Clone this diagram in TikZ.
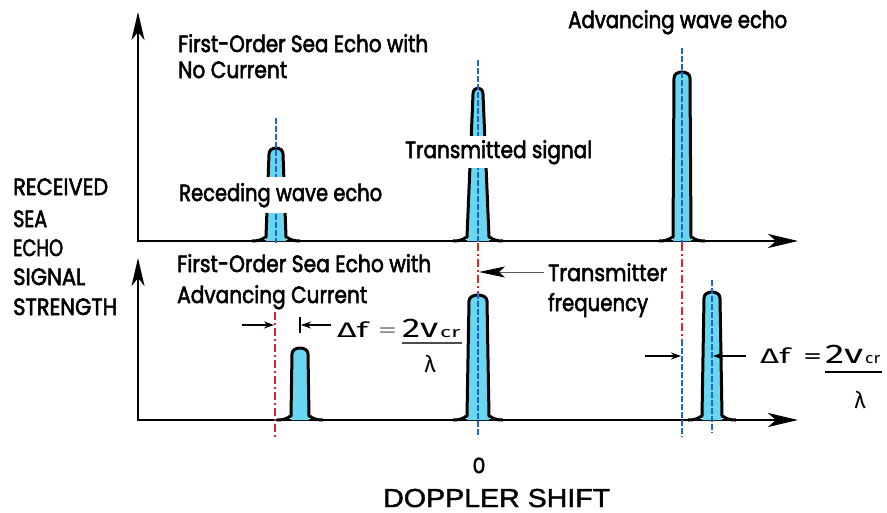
\documentclass[tikz,border=0pt]{standalone}
\usepackage{fontspec}
\usepackage{graphicx}
\setmainfont{Poppins}[FakeBold=2.6]
\newfontfamily\frmfont{Fira Sans}
\newfontfamily\arialfont{Liberation Sans}[FakeBold=1.5]
\usetikzlibrary{arrows.meta}
\definecolor{pkfill}{RGB}{105,215,240}
\definecolor{cline}{RGB}{30,100,210}
\definecolor{rline}{RGB}{215,40,40}
\newcommand\tw[2]{\resizebox{#1pt}{\height}{#2}}
% #1 x, #2 baseline y, #3 top y, #4 half width at base, #5 half width at top, #6 shoulder
\newcommand\drawpeak[6]{%
  \fill[pkfill] ({#1-#4},#2) -- ({#1-#5},{#3+6}) .. controls ({#1-#5},{#3-2}) and ({#1+#5},{#3-2}) .. ({#1+#5},{#3+6}) -- ({#1+#4},#2) -- cycle;
  \draw[pkline] ({#1-#4-#6},#2) .. controls ({#1-#4-3},#2) and ({#1-#4-2},{#2-4}) .. ({#1-#4},{#2-4}) -- ({#1-#5},{#3+6}) .. controls ({#1-#5},{#3-2}) and ({#1+#5},{#3-2}) .. ({#1+#5},{#3+6}) -- ({#1+#4},{#2-4}) .. controls ({#1+#4+2},{#2-4}) and ({#1+#4+3},#2) .. ({#1+#4+#6},#2);
}
\begin{document}
\begin{tikzpicture}[x=1pt,y=-1pt,
  axis/.style={line width=2.6pt, line cap=butt},
  pkline/.style={line width=3pt, line join=round},
  cl/.style={cline, line width=1.3pt, dash pattern=on 6pt off 2pt},
  rl/.style={rline, line width=1.3pt, dash pattern=on 8pt off 3pt on 2pt off 3pt},
  lbl/.style={anchor=base west, inner sep=0pt, font=\fontsize{23.5}{23.5}\selectfont},
  frm/.style={anchor=base west, inner sep=0pt, font=\frmfont\fontsize{21}{21}\selectfont},
  dim/.style={line width=1.2pt, -{Stealth[length=10pt,width=7pt]}},
  bighead/.style={{Stealth[length=28pt,width=13pt,inset=8pt]}-{Stealth[length=30pt,width=14pt,inset=8pt]}}
]
\useasboundingbox[fill=white] (0,0) rectangle (887,512);

% axes
\coordinate (Y1) at (138,12);
\coordinate (X1) at (798,241);
\coordinate (Y2) at (138,258);
\coordinate (X2) at (798,420);
\draw[axis,bighead] (Y1) |- (X1);
\draw[axis,bighead] (Y2) |- (X2);

% peaks
\drawpeak{276}{241}{148}{10}{7}{14}
\drawpeak{478}{241}{88}{11}{5}{14}
\drawpeak{682}{241}{72}{9}{8}{14}
\drawpeak{300}{420}{348}{9}{8}{14}
\drawpeak{478}{420}{295}{11}{9}{14}
\drawpeak{712}{420}{292}{10}{8}{14}

% centre and reference lines
\draw[cl] (276,118) -- (276,243);
\draw[cl] (478,60) -- (478,243);
\draw[rl] (478,243) -- (478,293);
\draw[cl] (478,293) -- (478,437);
\draw[cl] (682,48) -- (682,243);
\draw[rl] (682,243) -- (682,340);
\draw[cl] (682,340) -- (682,437);
\draw[cl] (712,280) -- (712,433);
\draw[rl] (275,312) -- (275,438);

% labels
\node[lbl] (t1) at (178,52) {\tw{250}{First-Order Sea Echo with}};
\node[lbl] (t2) at (178,78) {\tw{109}{No Current}};
\node[lbl] (adv) at (568,28) {\tw{219}{Advancing wave echo}};
\node[lbl,fill=white,inner xsep=2pt,inner ysep=6pt] (rec) at (177,201) {\tw{203}{Receding wave echo}};
\node[lbl,fill=white,inner xsep=2pt,inner ysep=4pt] (trs) at (403,158) {\tw{187}{Transmitted signal}};
\node[lbl] (b1) at (177,272) {\tw{254}{First-Order Sea Echo with}};
\node[lbl] (b2) at (177,303) {\tw{190}{Advancing Current}};
\node[lbl] (tm) at (548,281) {\tw{119}{Transmitter}};
\node[lbl] (fq) at (548,311) {\tw{100}{frequency}};

\node[lbl] (l1) at (13,195) {\tw{95}{RECEIVED}};
\node[lbl] (l2) at (13,227) {\tw{34}{SEA}};
\node[lbl] (l3) at (13,256) {\tw{50}{ECHO}};
\node[lbl] (l4) at (13,285) {\tw{72}{SIGNAL}};
\node[lbl] (l5) at (13,315) {\tw{104}{STRENGTH}};

\node[anchor=base, inner sep=0pt, font=\arialfont\fontsize{22}{22}\selectfont] (zero) at (479,473) {0};
\node[anchor=base west, inner sep=0pt, font=\arialfont\fontsize{26}{26}\selectfont] (dop) at (383,507) {\tw{227}{DOPPLER SHIFT}};

% transmitter arrow
\coordinate (tf) at (479,272);
\draw[line width=1pt, gray!70!black, -{Stealth[length=26pt,width=11pt,inset=6pt,black]}] ([xshift=-4pt]tf -| tm.west) -- (tf);

% left delta f
\coordinate (la) at (242,325);
\coordinate (lb) at (274,325);
\coordinate (lc) at (331,325);
\coordinate (ld) at (301,325);
\coordinate (lt1) at (300,317);
\coordinate (lt2) at (300,333);
\draw[dim] (la) -- (lb);
\draw[dim] (lc) -- (ld);
\draw[line width=1.4pt] (lt1) -- (lt2);
\node[frm] (df1) at (337,337) {\tw{31}{Δf}};
\node[frm, text=gray] (eq1) at (378,337) {\tw{19}{=}};
\node[frm] (num1) at (402,337) {\fontsize{27}{27}\selectfont\tw{36}{2v}\hspace{2pt}\fontsize{15}{15}\selectfont\tw{20}{cr}};
\coordinate (fb1a) at (402,343);
\coordinate (fb1b) at (462,343);
\draw[line width=1.3pt, gray!60!black] (fb1a) -- (fb1b);
\node[anchor=base, inner sep=0pt, font=\frmfont\fontsize{23}{23}\selectfont] (lam1) at (430,372) {λ};

% right delta f
\coordinate (ra) at (645,356);
\coordinate (rb) at (681,356);
\coordinate (rc) at (746,356);
\coordinate (rd) at (713,356);
\draw[dim] (ra) -- (rb);
\draw[dim] (rc) -- (rd);
\node[frm] (df2) at (760,363) {\tw{30}{Δf}};
\node[frm] (eq2) at (803,363) {\tw{19}{=}};
\node[frm] (num2) at (825,363) {\fontsize{27}{27}\selectfont\tw{38}{2v}\hspace{2pt}\fontsize{15}{15}\selectfont\tw{15}{cr}};
\coordinate (fb2a) at (825,372);
\coordinate (fb2b) at (882,372);
\draw[line width=2pt] (fb2a) -- (fb2b);
\node[anchor=base, inner sep=0pt, font=\frmfont\fontsize{23}{23}\selectfont] (lam2) at (860,408) {λ};
\end{tikzpicture}
\end{document}
